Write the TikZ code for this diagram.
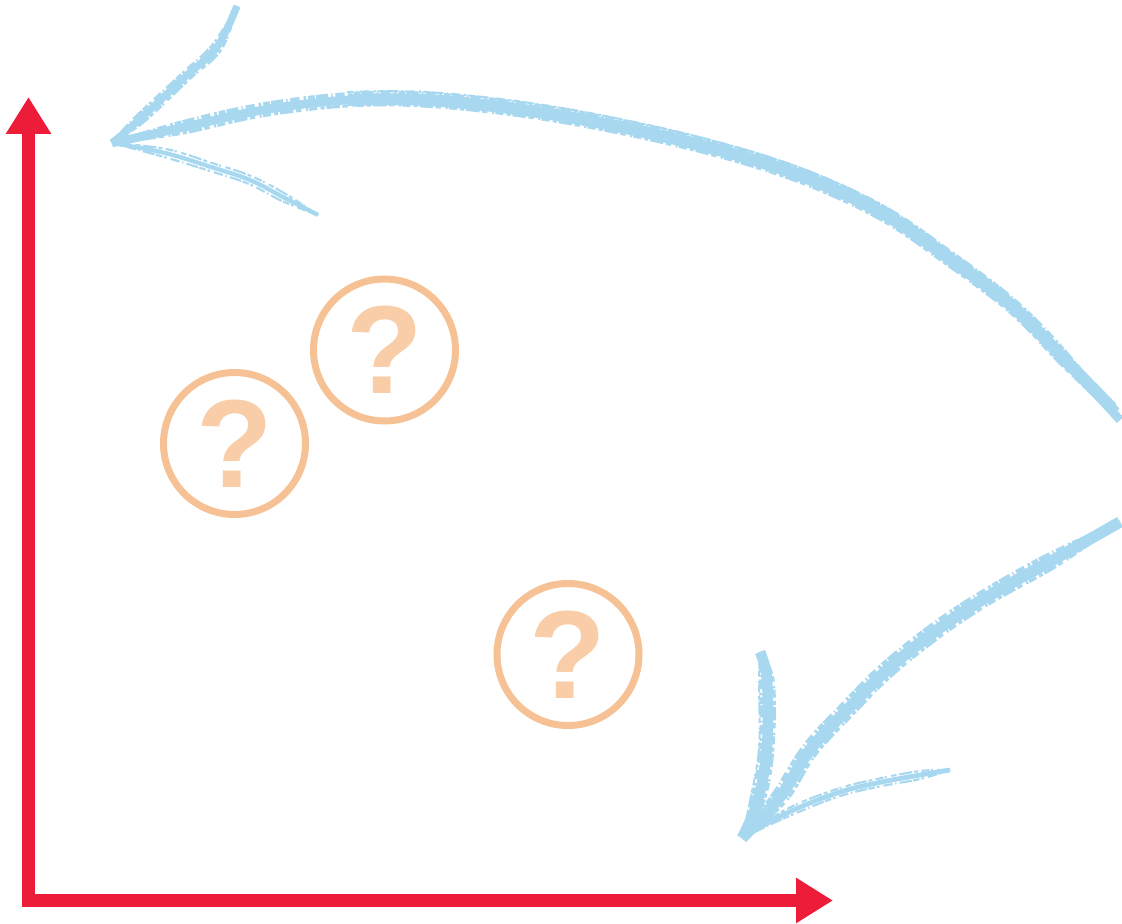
\documentclass[tikz,border=0pt]{standalone}
\usepackage{fontspec}
\newfontfamily\qfont{Liberation Sans}
\usetikzlibrary{arrows.meta}
\definecolor{axisred}{RGB}{237,28,57}
\definecolor{chalkblue}{RGB}{168,216,240}
\definecolor{ringorange}{RGB}{246,193,148}
\definecolor{qorange}{RGB}{248,205,168}
\tikzset{
  axisline/.style={draw=axisred, line width=9.75pt, line join=miter,
    {Triangle[length=27.75pt,width=32.25pt]}-{Triangle[length=27.75pt,width=32.25pt]}},
  qring/.style={circle, draw=ringorange, line width=5.25pt, minimum size=106.5pt, inner sep=0pt},
  qmark/.style={text=qorange, font=\qfont\bfseries\fontsize{94}{94}\selectfont, inner sep=0pt},
  chalkcore/.style={draw=chalkblue, line cap=butt, line join=round},
  chalkragA/.style={draw=chalkblue, line cap=butt, line width=3pt,
    dash pattern=on 5pt off 1.5pt on 2pt off 3pt on 7pt off 2pt on 1pt off 2.5pt on 9pt off 1pt},
  chalkragB/.style={draw=chalkblue, line cap=butt, line width=2.4pt,
    dash pattern=on 3pt off 2.5pt on 6pt off 1pt on 1.5pt off 3.5pt on 4pt off 2pt on 10pt off 1.5pt},
}
\begin{document}
\begin{tikzpicture}[x=0.75pt,y=-0.75pt]
\useasboundingbox (0,0) rectangle (1122,924);
% axes
\coordinate (ytop) at (28.5,97);
\coordinate (corner) at (28.5,900.5);
\coordinate (xend) at (833,900.5);
\draw[axisline] (ytop) -- (corner) -- (xend);
% question circles
\node[qring] (c1) at (384.5,350) {};
\node[qmark] (q1) at (c1.center) {?};
\node[qring] (c2) at (234.5,443.5) {};
\node[qmark] (q2) at (c2.center) {?};
\node[qring] (c3) at (568,654.5) {};
\node[qmark] (q3) at (c3.center) {?};
% top chalk arrow
\coordinate (tipA) at (112,143);
\coordinate (startA) at (1120,420);
\coordinate (barbA1) at (237,6);
\coordinate (barbA2) at (318,215);
\def\arcA{plot[smooth, tension=0.6] coordinates {(startA) (1065,360) (1013,307) (947,257) (882,213) (804,177) (719,150) (621,127) (524,110) (426,100) (348,100) (263,110) (185,127) (tipA)}}
\def\arcAr{plot[smooth, tension=0.6] coordinates {(1112,408) (1065,360) (1013,307) (947,257) (882,213) (804,177) (719,150) (621,127) (524,110) (426,100) (348,100)}}
\def\barbAa{plot[smooth, tension=0.6] coordinates {(tipA) (139,120) (185,77) (217,47) (barbA1)}}
\def\barbAb{plot[smooth, tension=0.6] coordinates {(tipA) (165,153) (211,167) (250,180) (283,197) (barbA2)}}
\draw[chalkcore, line width=6.5pt] \arcA;
\draw[chalkcore, line width=9pt] \arcAr;
\draw[chalkragA, shift={(2,-6)}] \arcA;
\draw[chalkragB, shift={(-2,6)}] \arcA;
\draw[chalkragB, shift={(-6,-2)}] \arcAr;
\draw[chalkragA, shift={(6,2)}] \arcAr;
\draw[chalkragA, line width=1.6pt, shift={(-1,-8)}] \arcAr;
\draw[chalkcore, line width=5.5pt] \barbAa;
\draw[chalkragA, line width=2pt, shift={(-4.5,-2)}] \barbAa;
\draw[chalkragB, line width=2pt, shift={(4.5,2)}] \barbAa;
\draw[chalkcore, line width=3.2pt] \barbAb;
\draw[chalkragB, line width=1.6pt, shift={(1,-4)}] \barbAb;
\draw[chalkragA, line width=1.6pt, shift={(-1,4)}] \barbAb;
% bottom chalk arrow
\coordinate (tipB) at (742,838);
\coordinate (startB) at (1120,522);
\coordinate (barbB1) at (760,652);
\coordinate (barbB2) at (950,770);
\def\arcB{plot[smooth, tension=0.6] coordinates {(startB) (1053,560) (987,597) (937,630) (887,670) (847,710) (810,750) (780,797) (tipB)}}
\def\barbBa{plot[smooth, tension=0.6] coordinates {(tipB) (758,800) (767,747) (767,680) (barbB1)}}
\def\barbBb{plot[smooth, tension=0.6] coordinates {(tipB) (787,813) (837,793) (877,783) (920,775) (barbB2)}}
\draw[chalkcore, line width=8.5pt] \arcB;
\draw[chalkragA, shift={(-5,-5)}] \arcB;
\draw[chalkragB, shift={(5,5)}] \arcB;
\draw[chalkcore, line width=8pt] \barbBa;
\draw[chalkragA, shift={(-6,0)}] \barbBa;
\draw[chalkragB, shift={(6,0)}] \barbBa;
\draw[chalkragB, line width=1.5pt, shift={(-8,1)}] \barbBa;
\draw[chalkcore, line width=3.6pt] \barbBb;
\draw[chalkragB, line width=1.6pt, shift={(0,-4)}] \barbBb;
\draw[chalkragA, line width=1.6pt, shift={(0,4)}] \barbBb;
\end{tikzpicture}
\end{document}
